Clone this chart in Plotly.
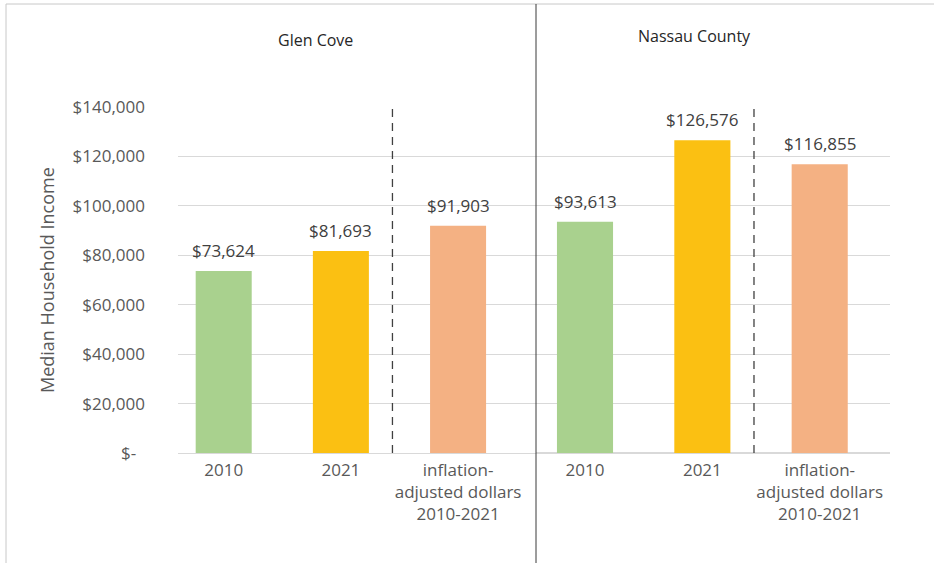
import plotly.graph_objects as go

# Median household income, Glen Cove vs. Nassau County
categories = ["2010", "2021", "inflation-<br>adjusted dollars<br>2010-2021"]
glen_cove = [73624, 81693, 91903]
nassau_county = [93613, 126576, 116855]
panel_titles = ["Glen Cove", "Nassau County"]
bar_colors = ["#A9D18E", "#FBC012", "#F4B183"]
y_ticks = [0, 20000, 40000, 60000, 80000, 100000, 120000, 140000]
y_ticktext = ["$-\u00a0\u00a0" if v == 0 else f"${v:,}" for v in y_ticks]

FONT = "Open Sans"
W, H = 934, 563
ML, MR, MT, MB = 178, 44, 107, 110
split = (536 - ML) / (W - ML - MR)  # paper x of the panel divider

fig = go.Figure()

for series, xa, ya in [(glen_cove, "x", "y"), (nassau_county, "x2", "y2")]:
    fig.add_trace(go.Bar(
        x=categories, y=series, xaxis=xa, yaxis=ya,
        marker=dict(color=bar_colors, line=dict(width=0)),
        width=0.478, showlegend=False, hoverinfo="skip",
    ))
    # value labels above each bar (category index as x position)
    for i, v in enumerate(series):
        fig.add_annotation(
            x=i, y=v, xref=xa, yref=ya, text=f"${v:,}",
            showarrow=False, yanchor="bottom", yshift=7,
            font=dict(family=FONT, size=17, color="#404040"),
        )
    # dashed separator before the inflation-adjusted bar
    fig.add_shape(type="line", xref=xa, yref=ya, x0=1.44, x1=1.44,
                  y0=0, y1=140000,
                  line=dict(color="#404040", width=1.3, dash="8px,6px"))

common_x = dict(
    type="category", showgrid=False, zeroline=False, showline=False,
    ticks="", ticklabelstandoff=5,
    tickfont=dict(family=FONT, size=17, color="#595959"),
    fixedrange=True,
)
fig.update_layout(
    width=W, height=H,
    margin=dict(l=ML, r=MR, t=MT, b=MB),
    paper_bgcolor="white", plot_bgcolor="white",
    bargap=0.5,
    xaxis=dict(domain=[0, split], range=[-0.39, 2.665], **common_x),
    xaxis2=dict(domain=[split, 1], range=[-0.4176, 2.599], **common_x),
    yaxis=dict(
        range=[0, 140000], tickvals=y_ticks, ticktext=y_ticktext,
        showgrid=True, gridcolor="#D9D9D9", gridwidth=1,
        zeroline=True, zerolinecolor="#D9D9D9", zerolinewidth=1,
        showline=False, ticks="", ticklabelstandoff=32,
        tickfont=dict(family=FONT, size=17, color="#595959"),
    ),
    yaxis2=dict(
        range=[0, 140000], anchor="x2", tickvals=y_ticks,
        showticklabels=False, showgrid=True, gridcolor="#D9D9D9",
        gridwidth=1, zeroline=True, zerolinecolor="#D9D9D9",
        showline=False, ticks="",
    ),
)

# axis title
fig.add_annotation(
    x=(47 - ML) / (W - ML - MR), y=0.5, xref="paper", yref="paper",
    text="Median Household Income", textangle=-90, showarrow=False,
    xanchor="center", yanchor="middle",
    font=dict(family=FONT, size=18, color="#595959"),
)

# panel titles
for title, px, py in [(panel_titles[0], 315, 40), (panel_titles[1], 694.5, 36)]:
    fig.add_annotation(
        x=(px - ML) / (W - ML - MR), y=(H - MB - py) / (H - MT - MB),
        xref="paper", yref="paper", text=title, showarrow=False,
        xanchor="center", yanchor="middle",
        font=dict(family=FONT, size=16, color="#262626"),
    )

plot_w, plot_h = W - ML - MR, H - MT - MB
def px_x(p):
    return (p - ML) / plot_w
def px_y(p):
    return (H - MB - p) / plot_h

# outer frame and panel divider
fig.add_shape(type="rect", xref="paper", yref="paper",
              x0=px_x(6), x1=px_x(W + 10), y0=px_y(H + 10), y1=px_y(4),
              line=dict(color="#C8C8C8", width=1), layer="below")
fig.add_shape(type="line", xref="paper", yref="paper",
              x0=split, x1=split, y0=px_y(H + 10), y1=px_y(4),
              line=dict(color="#3A3A3A", width=1))

fig.write_html("out.html")
